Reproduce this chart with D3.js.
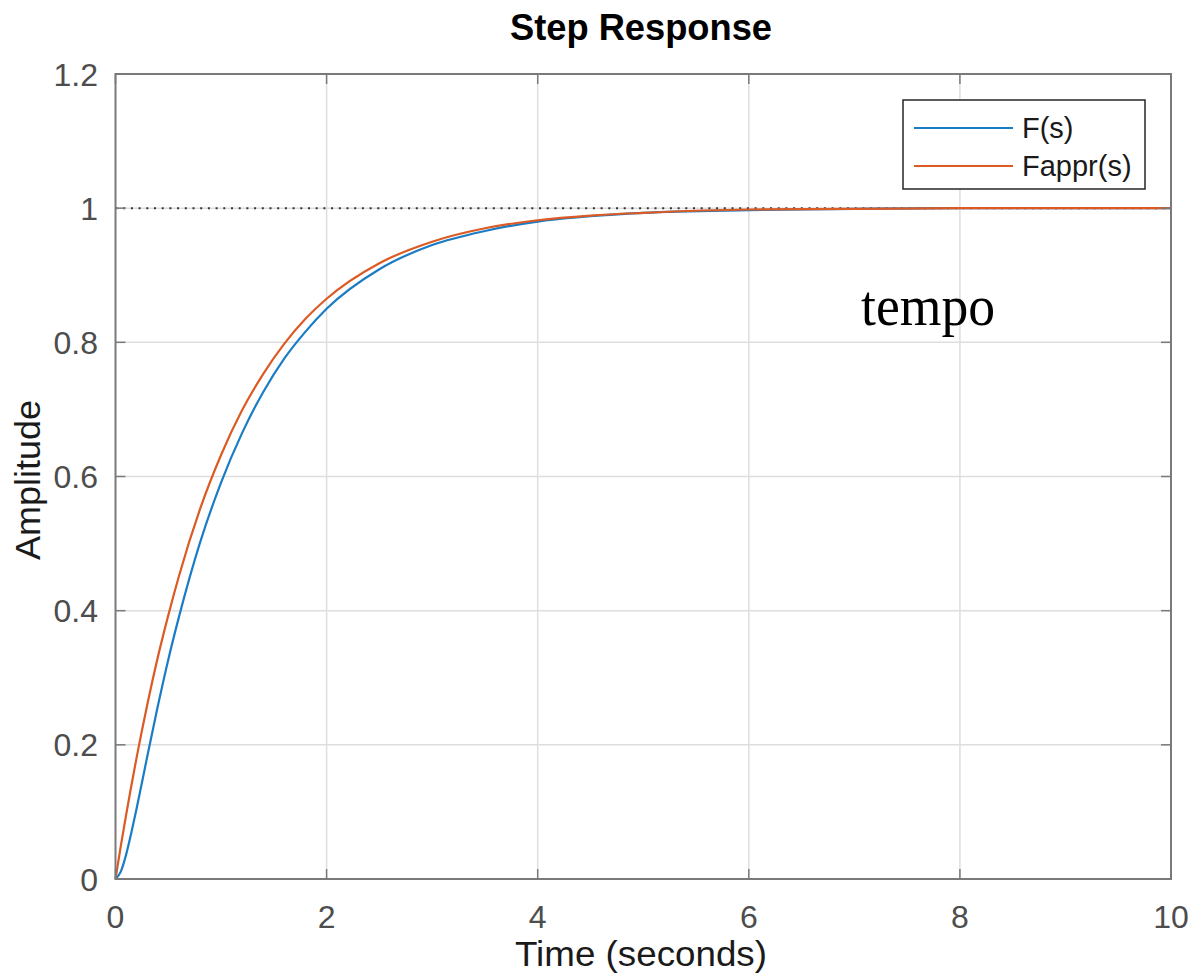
<!DOCTYPE html>
<html>
<head>
<meta charset="utf-8">
<script src="https://cdn.jsdelivr.net/npm/d3@7"></script>
<style>
  body { margin: 0; background: #fff; }
  svg { display: block; }
</style>
</head>
<body>
<svg id="chart" width="1194" height="976"></svg>
<script>
// step response samples
const timeValues = [0, 0.05, 0.1, 0.15, 0.2, 0.3, 0.4, 0.5, 0.6, 0.8, 1.0, 1.2, 1.4, 1.6, 1.8, 2.0, 2.5, 3.0, 3.5, 4.0, 4.5, 5.0, 6.0, 7.0, 8.0, 9.0, 10.0]
const fValues = [0, 0.011, 0.036, 0.069, 0.105, 0.182, 0.257, 0.327, 0.390, 0.501, 0.591, 0.665, 0.726, 0.776, 0.816, 0.850, 0.909, 0.945, 0.966, 0.980, 0.988, 0.993, 0.997, 0.999, 1.0, 1.0, 1.0]
const fApprValues = [0, 0.049, 0.095, 0.139, 0.181, 0.259, 0.330, 0.393, 0.451, 0.551, 0.632, 0.699, 0.753, 0.798, 0.835, 0.865, 0.918, 0.950, 0.970, 0.982, 0.989, 0.993, 0.998, 0.999, 1.0, 1.0, 1.0]
const seriesNames = ['F(s)', 'Fappr(s)']
const xTicks = [0, 2, 4, 6, 8, 10]
const yTicks = [0, 0.2, 0.4, 0.6, 0.8, 1, 1.2]
const steadyState = 1

const colors = ['#1a7cc4', '#dc5a24']
const plotLeft = 115.5, plotRight = 1171, plotTop = 74, plotBottom = 879

const svg = d3.select('#chart')
const x = d3.scaleLinear().domain([0, 10]).range([plotLeft, plotRight])
const y = d3.scaleLinear().domain([0, 1.2]).range([plotBottom, plotTop])

// grid
svg.append('g').selectAll('line').data(xTicks.slice(1, -1)).join('line')
  .attr('x1', d => x(d)).attr('x2', d => x(d)).attr('y1', plotTop).attr('y2', plotBottom)
  .attr('stroke', '#dedede').attr('stroke-width', 1.5)
svg.append('g').selectAll('line').data(yTicks.slice(1, -1)).join('line')
  .attr('y1', d => y(d)).attr('y2', d => y(d)).attr('x1', plotLeft).attr('x2', plotRight)
  .attr('stroke', '#dedede').attr('stroke-width', 1.5)

// steady state dotted line
svg.append('line')
  .attr('x1', plotLeft).attr('x2', plotRight).attr('y1', y(steadyState)).attr('y2', y(steadyState))
  .attr('stroke', '#333').attr('stroke-width', 2).attr('stroke-dasharray', '2,5.7')

// curves
const line = d3.line().x(d => x(d[0])).y(d => y(d[1])).curve(d3.curveMonotoneX)
;[fValues, fApprValues].forEach(function (vals, i) {
  svg.append('path')
    .datum(timeValues.map((t, k) => [t, vals[k]]))
    .attr('d', line)
    .attr('fill', 'none')
    .attr('stroke', colors[i])
    .attr('stroke-width', 2.2)
})

// axes box and inward ticks
const tickLen = 10
const axisColor = '#7a7a7a'
svg.append('rect')
  .attr('x', plotLeft).attr('y', plotTop).attr('width', plotRight - plotLeft).attr('height', plotBottom - plotTop)
  .attr('fill', 'none').attr('stroke', axisColor).attr('stroke-width', 2)

const ticks = svg.append('g').attr('stroke', axisColor).attr('stroke-width', 1.5)
xTicks.forEach(function (t) {
  ticks.append('line').attr('x1', x(t)).attr('x2', x(t)).attr('y1', plotBottom).attr('y2', plotBottom - tickLen)
  ticks.append('line').attr('x1', x(t)).attr('x2', x(t)).attr('y1', plotTop).attr('y2', plotTop + tickLen)
})
yTicks.forEach(function (t) {
  ticks.append('line').attr('y1', y(t)).attr('y2', y(t)).attr('x1', plotLeft).attr('x2', plotLeft + tickLen)
  ticks.append('line').attr('y1', y(t)).attr('y2', y(t)).attr('x1', plotRight).attr('x2', plotRight - tickLen)
})

// tick labels
const font = 'Liberation Sans, Arial, sans-serif'
svg.append('g').selectAll('text').data(xTicks).join('text')
  .attr('x', d => x(d)).attr('y', 928)
  .attr('text-anchor', 'middle')
  .attr('font-family', font).attr('font-size', 32).attr('fill', '#4d4d4d')
  .text(d => d)
svg.append('g').selectAll('text').data(yTicks).join('text')
  .attr('x', 98).attr('y', d => y(d)).attr('dy', '0.36em')
  .attr('text-anchor', 'end')
  .attr('font-family', font).attr('font-size', 32).attr('fill', '#4d4d4d')
  .text(d => d)

// labels
svg.append('text')
  .attr('x', 641).attr('y', 40).attr('text-anchor', 'middle')
  .attr('font-family', font).attr('font-size', 36).attr('font-weight', 'bold').attr('fill', '#000')
  .attr('textLength', 262).attr('lengthAdjust', 'spacingAndGlyphs')
  .text('Step Response')
svg.append('text')
  .attr('x', 641).attr('y', 966).attr('text-anchor', 'middle')
  .attr('font-family', font).attr('font-size', 35).attr('fill', '#1a1a1a')
  .attr('textLength', 252).attr('lengthAdjust', 'spacingAndGlyphs')
  .text('Time (seconds)')
svg.append('text')
  .attr('transform', 'translate(40, 480) rotate(-90)').attr('text-anchor', 'middle')
  .attr('font-family', font).attr('font-size', 35).attr('fill', '#1a1a1a')
  .attr('textLength', 160).attr('lengthAdjust', 'spacingAndGlyphs')
  .text('Amplitude')

// annotation
svg.append('text')
  .attr('x', 861).attr('y', 325)
  .attr('font-family', 'Liberation Serif, serif').attr('font-size', 56).attr('fill', '#000')
  .attr('textLength', 134).attr('lengthAdjust', 'spacingAndGlyphs')
  .text('tempo')

// legend
const legend = svg.append('g')
legend.append('rect')
  .attr('x', 903).attr('y', 100).attr('width', 242).attr('height', 89)
  .attr('fill', '#fff').attr('stroke', '#262626').attr('stroke-width', 1.5)
seriesNames.forEach(function (name, i) {
  const ly = 128 + i * 38
  legend.append('line')
    .attr('x1', 914).attr('x2', 1013).attr('y1', ly).attr('y2', ly)
    .attr('stroke', colors[i]).attr('stroke-width', 2)
  legend.append('text')
    .attr('x', 1022).attr('y', ly + 10)
    .attr('font-family', font).attr('font-size', 29).attr('fill', '#1a1a1a')
    .text(name)
})
</script>
</body>
</html>
